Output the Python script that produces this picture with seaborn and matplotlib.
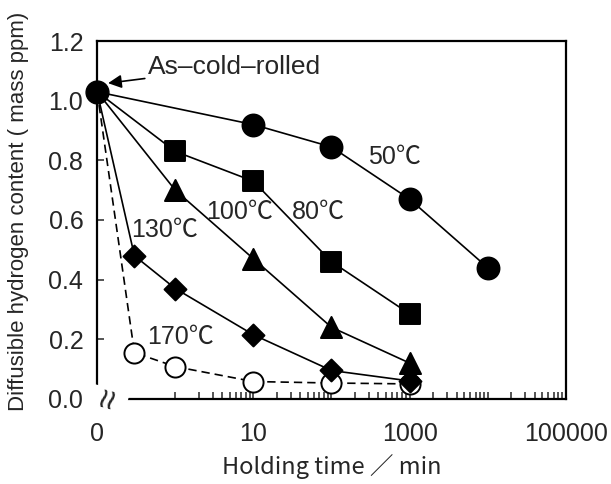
import matplotlib
matplotlib.use('Agg')
import matplotlib.pyplot as plt
import matplotlib.ticker as mticker
import seaborn as sns
import numpy as np

# Starting condition (time 0), shared by every curve
initial_h = 1.03
zero_pos = 0.1  # where "0" sits on the broken log axis

# Holding time (min) and diffusible hydrogen (mass ppm) per temperature
times_50 = [10, 100, 1000, 10000]
h_50 = [0.92, 0.845, 0.67, 0.44]

times_80 = [1, 10, 100, 1000]
h_80 = [0.83, 0.73, 0.46, 0.285]

times_100 = [1, 10, 100, 1000]
h_100 = [0.70, 0.47, 0.24, 0.12]

times_130 = [0.3, 1, 10, 100, 1000]
h_130 = [0.48, 0.37, 0.215, 0.095, 0.06]

times_170 = [0.3, 1, 10, 100, 1000]
h_170 = [0.155, 0.108, 0.058, 0.053, 0.05]

xtick_vals = [0.1, 10, 1000, 100000]
xtick_labels = ['0', '10', '1000', '100000']
ytick_vals = [0.0, 0.2, 0.4, 0.6, 0.8, 1.0, 1.2]

sns.set_style('ticks')
plt.rcParams['font.family'] = ['Liberation Sans', 'Noto Sans CJK JP', 'DejaVu Sans']

fig, ax = plt.subplots(figsize=(6.11, 4.84), dpi=100)
fig.subplots_adjust(left=0.159, right=0.926, top=0.915, bottom=0.176)
ax.set_xscale('log')

# (times, values, label, marker, size, face, linestyle, zorder)
series = [
    (times_170, h_170, '170℃', 'o', 210, 'white', (0, (5, 3)), 3),
    (times_100, h_100, '100℃', '^', 230, 'black', '-', 4),
    (times_130, h_130, '130℃', 'D', 125, 'black', '-', 5),
    (times_80, h_80, '80℃', 's', 190, 'black', '-', 6),
    (times_50, h_50, '50℃', 'o', 250, 'black', '-', 7),
]

for times, vals, label, marker, size, face, ls, z in series:
    xs = [zero_pos] + list(times)
    ys = [initial_h] + list(vals)
    sns.lineplot(x=xs, y=ys, ax=ax, color='black', lw=1.2, linestyle=ls,
                 sort=False, estimator=None, zorder=2)
    sns.scatterplot(x=times, y=vals, ax=ax, marker=marker, s=size,
                    color=face, edgecolor='black', linewidth=1.4, zorder=z)

# as-cold-rolled point
ax.scatter([zero_pos], [initial_h], s=270, color='black', zorder=8, clip_on=False)

ax.set_xlim(0.1, 100000)
ax.set_ylim(0, 1.2)
ax.set_xticks(xtick_vals)
ax.set_xticklabels(xtick_labels)
minor = [m * 10.0 ** k for k in range(0, 5) for m in range(1, 10)]
ax.xaxis.set_minor_locator(mticker.FixedLocator(minor))
ax.xaxis.set_minor_formatter(mticker.NullFormatter())
ax.set_yticks(ytick_vals)
ax.set_yticklabels([f'{v:.1f}' for v in ytick_vals])

ax.tick_params(which='both', direction='in', length=5, width=1.1, labelsize=18)
ax.tick_params(axis='x', pad=17)
ax.tick_params(axis='y', pad=10)
for sp in ax.spines.values():
    sp.set_linewidth(1.6)
    sp.set_color('black')

ax.set_xlabel('Holding time ／ min', fontsize=17, family='Noto Sans CJK JP')
ax.xaxis.set_label_coords(0.5, -0.155)
ax.set_ylabel('Diffusible hydrogen content ( mass ppm)', fontsize=16)
ax.yaxis.set_label_coords(-0.145, 0.525)

# temperature labels
ax.text(640, 0.81, '50℃', fontsize=18, ha='center', va='center')
ax.text(67, 0.627, '80℃', fontsize=18, ha='center', va='center')
ax.text(6.7, 0.627, '100℃', fontsize=18, ha='center', va='center')
ax.text(0.74, 0.567, '130℃', fontsize=18, ha='center', va='center')
ax.text(1.18, 0.208, '170℃', fontsize=18, ha='center', va='center')

ax.annotate('As–cold–rolled', xy=(0.138, 1.059), xytext=(0.449, 1.113),
            fontsize=19, ha='left', va='center',
            arrowprops=dict(arrowstyle='-|>', color='black', lw=1.2,
                            mutation_scale=20, shrinkA=0, shrinkB=0))

# axis break mark
ax.text(0.027, 0.0, '≈', transform=ax.transAxes, fontsize=26, rotation=75,
        ha='center', va='center', zorder=9, clip_on=False,
        bbox=dict(facecolor='white', edgecolor='none', pad=0.2))

plt.savefig('out.png', dpi=100)
